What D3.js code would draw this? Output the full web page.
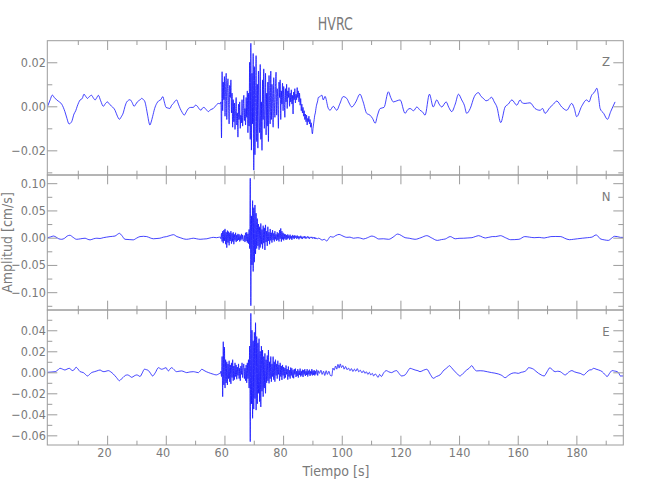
<!DOCTYPE html>
<html><head><meta charset="utf-8">
<script src="https://cdn.jsdelivr.net/npm/d3@7"></script>
<style>body{margin:0;background:#fff}</style>
</head><body><svg id="c" width="650" height="500"></svg>
<script>
const chartTitle = "HVRC";
const xTitle = "Tiempo [s]";
const yTitle = "Amplitud [cm/s]";
const componentNames = ["Z", "N", "E"];
const xDomain = [-0.4, 196];
const xMajorTicks = [20, 40, 60, 80, 100, 120, 140, 160, 180];
const xMinorTicks = [10, 30, 50, 70, 90, 110, 130, 150, 170, 190];
const burstStart = 58.6, burstStep = 0.2;

// ---- Z component ----
const zDomain = [-0.0312, 0.0298];
const zMajorTicks = [-0.02, 0, 0.02];
const zMinorTicks = [-0.03, -0.01, 0.01];
const zPre = [[-0.3,0],[0.6,0.003],[1.3,0.0051],[2.0,0.004],[2.8,0.0029],[3.5,0.0022],[4.5,0.001],[5.6,-0.0024],[6.3,-0.0055],[7.0,-0.008],[7.9,-0.007],[8.7,-0.0035],[9.3,-0.002],[9.8,0],[10.8,0.0029],[11.5,0.0035],[12.1,0.0055],[12.7,0.0045],[13.3,0.0036],[14.0,0.0045],[14.7,0.005],[15.3,0.0038],[15.9,0.0029],[16.5,0.004],[17,0.005],[17.8,0.0025],[18.7,0],[19.4,0.0012],[20.1,0.002],[20.9,0.0008],[21.6,0],[22.7,-0.0018],[23.5,-0.0045],[24.2,-0.0059],[24.8,-0.0048],[25.5,-0.003],[26.1,0],[26.7,0.002],[27.8,0.003],[28.5,0.0018],[29.2,0],[29.8,0.001],[30.3,0.002],[31.1,0.0028],[31.8,0.0036],[32.4,0.003],[32.9,0.002],[33.4,-0.001],[33.8,-0.004],[34.6,-0.0085],[35.0,-0.0072],[35.5,-0.0047],[36.2,-0.001],[36.9,0.0013],[37.6,0.0025],[38.3,0.003],[39.0,0.0044],[39.5,0.002],[40.1,-0.0005],[40.8,-0.0008],[41.4,-0.001],[42.0,0.0005],[42.6,0.0013],[43.2,0.0024],[43.7,0.0029],[44.3,0.001],[44.9,-0.001],[45.6,-0.0028],[46.3,-0.004],[47,-0.0025],[47.7,-0.001],[48.5,-0.0005],[49.4,-0.0005],[50.1,0.0005],[50.8,0],[51.4,-0.0012],[52,-0.0018],[52.5,-0.0008],[53,-0.0005],[53.8,-0.0015],[54.5,-0.0024],[55.3,-0.0015],[56.2,-0.001],[57.0,0.0002],[57.9,0.0013],[58.4,0.0012]];
const zBurst = [0.0012,0.0020,-0.0144,
0.0157,-0.0020,0.0110,0.0030,0.0135,
-0.0045,0.0090,0.0150,-0.0060,0.0070,
0.0125,0.0010,-0.0080,0.0095,0.0040,
0.0120,-0.0030,0.0060,-0.0095,0.0030,
-0.0070,0.0015,-0.0105,-0.0020,0.0040,
-0.0085,-0.0030,-0.0140,0.0010,-0.0060,
0.0020,-0.0100,-0.0040,-0.0075,0.0030,
-0.0090,-0.0020,0.0050,-0.0065,-0.0010,
-0.0085,0.0040,-0.0050,0.0070,-0.0120,
0.0060,-0.0090,0.0200,-0.0150,
0.0286,
-0.0199,0.0150,-0.0080,0.0240,-0.0290,
0.0180,-0.0220,0.0050,0.0230,-0.0160,
0.0100,-0.0190,0.0160,-0.0040,-0.0120,
0.0190,-0.0150,0.0020,-0.0200,0.0120,
-0.0060,0.0170,-0.0100,-0.0010,0.0150,
-0.0130,0.0060,-0.0090,0.0110,-0.0160,
0.0140,0.0000,-0.0080,0.0160,-0.0060,
0.0100,0.0020,-0.0095,0.0130,0.0030,
-0.0050,0.0090,0.0155,-0.0040,0.0080,
0.0010,-0.0100,0.0110,0.0040,0.0120,
-0.0060,0.0070,0.0010,0.0105,-0.0020,
0.0090,0.0030,-0.0050,0.0080,0.0020,
0.0100,-0.0010,0.0070,0.0040,0.0085,
0.0000,0.0060,0.0020,0.0075,0.0010,
0.0050,-0.0035,0.0065,0.0030,0.0080,
0.0015,0.0055,0.0030,0.0085,0.0040,
0.0070,0.0020,0.0060,0.0005,0.0035,
-0.0020,0.0010,-0.0030,-0.0005,-0.0045,
-0.0020,-0.0060,-0.0035,-0.0070,-0.0040,
-0.0085,-0.0055,-0.0070,-0.0045,-0.0080,
-0.0060,-0.0095,-0.0075,-0.0110,-0.0125,
-0.0100,-0.0080,-0.0060,-0.0040,-0.0030,
-0.0010,0.0005,0.0015,0.0025,0.0040];
const zPost = [[92.6,0.0044],[93.2,0.0051],[93.7,0.0029],[94.3,0.0045],[95.4,-0.0009],[96,-0.0018],[97.1,0],[98.3,-0.0018],[99.3,0.001],[100.5,0.0044],[101.7,0.0036],[102.5,0.0015],[103.4,-0.0003],[104.8,0.002],[106.2,0.0055],[107.3,0.002],[108.5,-0.0032],[109.6,-0.004],[110.5,-0.0055],[111.4,-0.0077],[112.2,-0.004],[113.1,-0.001],[114.4,-0.0005],[115.9,0.0066],[116.7,0.004],[117.6,0.002],[118.8,0.0025],[119.9,0.0029],[121.6,-0.0032],[122.5,-0.0015],[123.3,-0.001],[124.5,-0.002],[125.6,-0.0003],[126.7,-0.0018],[127.5,-0.0025],[128.4,-0.004],[129.9,0.0055],[131.2,-0.0003],[132.4,0.0029],[133.2,0.001],[134.1,-0.0003],[135.6,0.002],[136.5,-0.0005],[137.5,-0.0024],[138.7,0.001],[139.8,0.0055],[140.9,0.0029],[141.8,0.0005],[142.6,-0.0032],[143.8,-0.001],[145.2,0.0044],[146.6,0.0062],[147.5,0.0045],[148.3,0.0036],[149.2,0.0025],[150,0.0029],[151.1,0.0041],[152,0.002],[152.9,-0.0003],[154.2,-0.0074],[155.7,-0.0003],[156.8,0.001],[158,0.0029],[159.7,0.0005],[160.8,0.0029],[161.6,0.0015],[162.5,0.0013],[164.2,0.0016],[165.9,-0.001],[167.6,-0.0018],[168.5,-0.001],[169.3,-0.0032],[171,-0.0005],[172.2,0.001],[173.3,0.0024],[175,-0.0003],[176.7,-0.0018],[178.4,0.0013],[179.3,-0.001],[180.1,-0.0047],[181.8,0],[183.5,0.0029],[184.3,0.002],[185.2,0.005],[186.2,0.0065],[187,0.0082],[187.5,0.005],[188.1,-0.001],[189.3,-0.0032],[190.6,-0.0059],[191.7,-0.0024],[193.2,0.002]];

// ---- N component ----
const nDomain = [-0.1327, 0.115];
const nMajorTicks = [-0.10, -0.05, 0, 0.05, 0.10];
const nMinorTicks = [-0.125, -0.075, -0.025, 0.025, 0.075];
const nPre = [[-0.3,0],[0.8,0.0015],[1.7,0.003],[2.6,0.001],[3.5,-0.002],[4.5,-0.003],[5.5,-0.001],[6.4,0.003],[7.3,0.0044],[8.3,0.001],[9.6,-0.003],[11,-0.002],[12.5,-0.001],[13.4,-0.003],[14.2,-0.004],[15.4,-0.002],[16.5,-0.001],[17.6,-0.0015],[18.7,0],[19.8,0.001],[21,0.002],[22.7,0.003],[23.5,0.006],[24.2,0.008],[25,0.004],[26.1,-0.003],[27.5,-0.0035],[28.9,-0.004],[30,-0.001],[31.2,0.002],[32.4,0.0025],[33.5,0.002],[34.7,-0.0005],[35.8,-0.002],[37,-0.0015],[38,-0.001],[39.2,0.001],[40.3,0.002],[41.5,0.004],[42.6,0.0055],[43.8,0.002],[44.9,0],[46,-0.002],[47.1,-0.003],[48.3,-0.002],[49.4,-0.001],[50.5,-0.002],[51.7,-0.003],[52.8,-0.0025],[54,-0.002],[55.1,-0.0005],[56.2,0.0006],[57.3,0],[58.4,0.001]];
const nBurst = [0.0010,-0.0020,0.0080,-0.0070,0.0120,-0.0100,0.0140,-0.0060,0.0161,-0.0120,
0.0100,-0.0183,0.0130,-0.0090,0.0110,-0.0140,0.0090,-0.0060,0.0120,-0.0110,
0.0080,-0.0070,0.0100,-0.0120,0.0060,-0.0050,0.0090,-0.0080,0.0050,-0.0060,
0.0070,-0.0040,0.0060,-0.0070,0.0040,-0.0050,0.0070,-0.0030,0.0050,-0.0060,
-0.0050,0.0040,-0.0080,0.0090,-0.0060,0.0100,-0.0090,
0.0070,-0.0110,0.0150,-0.0200,0.1090,-0.1248,0.0400,-0.0500,0.0680,-0.0620,
0.0550,-0.0450,0.0600,-0.0300,0.0450,-0.0200,0.0350,-0.0150,0.0250,-0.0220,
0.0200,-0.0180,0.0260,-0.0120,0.0150,-0.0200,0.0220,-0.0100,0.0180,-0.0226,
0.0235,-0.0080,0.0120,-0.0150,0.0200,-0.0060,0.0100,-0.0120,0.0160,-0.0050,
0.0090,-0.0090,0.0140,-0.0040,0.0080,-0.0070,0.0120,-0.0030,0.0060,-0.0060,
0.0100,-0.0040,0.0080,-0.0070,0.0140,-0.0020,0.0170,-0.0073,0.0120,-0.0030,
0.0090,-0.0050,0.0070,-0.0020,0.0060,-0.0040,0.0050,-0.0030,0.0060,-0.0010,
0.0040,-0.0035,0.0055,-0.0015,0.0030,-0.0040,0.0050,-0.0010,0.0035,-0.0025,
0.0045,0.0000,0.0030,-0.0020,0.0040,-0.0010,0.0025,-0.0030,0.0020,-0.0005,
0.0035,-0.0015,0.0020,-0.0025,0.0015,0.0000,0.0030,-0.0010,0.0020,-0.0020,
0.0010,0.0000,0.0025,-0.0010,0.0015,-0.0020,0.0005,0.0010,-0.0005,0.0015,
-0.0015,0.0005,-0.0010,0.0010,-0.0020,0.0000,-0.0025,-0.0010,-0.0015,-0.0020,-0.0010];
const nPost = [[92.6,-0.002],[93.3,-0.0045],[94,-0.003],[94.9,-0.006],[95.5,-0.002],[96.1,0.002],[97,0.001],[98,0.004],[99.1,0.006],[100,0.004],[100.8,0.002],[101.7,0.0006],[102.8,0.001],[104,-0.001],[105.5,0],[106.5,-0.001],[107.4,-0.0024],[108.8,0],[110.3,0.003],[111.4,0.001],[112.6,-0.0024],[114.2,-0.002],[116,-0.003],[117.5,0.001],[119.1,0.0067],[120.3,0.004],[121.6,0],[123,-0.001],[125,-0.003],[127,0],[129,0.0037],[130.5,0],[132.6,-0.005],[134,-0.0035],[135.3,-0.0024],[137,0.002],[138.7,-0.002],[140,-0.0012],[141.6,-0.001],[143,-0.0005],[144.4,0],[145.5,0.002],[146.7,0.0037],[148,0.001],[149,-0.0006],[151.3,0.002],[152.5,0.002],[154.1,0.0037],[155.8,0],[157.6,-0.0037],[160.4,-0.003],[162.4,0.002],[164,0.001],[165.6,0],[167.3,0.0005],[169,-0.0006],[171.3,0.002],[173,0.0022],[174.7,0.002],[176,-0.001],[177.6,-0.0037],[179,-0.003],[180.4,-0.002],[182,-0.001],[183.8,0],[185.3,0.001],[186.7,0.005],[187.5,0.002],[188.1,-0.002],[189.5,-0.004],[190.9,-0.005],[192,-0.001],[193,0.0025],[194,0.002],[195,0.0006],[196,0.0005]];

// ---- E component ----
const eDomain = [-0.0692, 0.0593];
const eMajorTicks = [-0.06, -0.04, -0.02, 0, 0.02, 0.04];
const eMinorTicks = [-0.05, -0.03, -0.01, 0.01, 0.03, 0.05];
const ePre = [[-0.3,0],[1.2,0.0003],[2.3,0.0006],[3.1,0.002],[3.96,0.0038],[4.8,0.003],[5.6,0.0022],[6.3,0.003],[7.1,0.0038],[7.7,0.0025],[8.3,0.0016],[8.9,0.003],[9.4,0.0048],[10.1,0.003],[10.8,0.0006],[11.9,-0.0003],[12.6,-0.002],[13.3,-0.0035],[14,-0.002],[14.7,-0.0003],[15.6,0.0005],[16.5,0.0013],[17.6,0.0022],[18.2,0.0012],[18.9,0.0006],[19.6,0.001],[20.4,0.0016],[21.2,0.0005],[22.1,-0.0016],[23.2,-0.005],[24.2,-0.008],[24.8,-0.0065],[25.5,-0.0048],[26.2,-0.003],[27,-0.0025],[27.7,-0.0035],[28.4,-0.0048],[29.2,-0.0035],[30.1,-0.0025],[30.6,-0.003],[31.2,-0.004],[32,-0.0005],[32.7,0.0029],[33.4,0.0025],[34.1,0.0016],[34.8,-0.001],[35.5,-0.0035],[36.4,-0.0005],[37.5,0.0044],[38.1,0.0035],[38.6,0.0029],[39.3,0.0035],[40.1,0.0044],[40.5,0.0025],[40.9,0.0013],[41.4,0.003],[42,0.0044],[42.8,0.0025],[43.7,0.0006],[44.5,0.001],[45.4,0.0013],[46.3,0.0005],[47.1,-0.0003],[48.2,0.0003],[49.4,0.0006],[50.2,0.0002],[51.1,-0.0003],[51.7,0.0012],[52.3,0.0029],[53,0.0018],[53.8,0.0006],[54.5,-0.0002],[55.3,-0.001],[56.2,-0.0018],[57.2,-0.0025],[57.9,-0.0018],[58.4,-0.001]];
const eBurst = [-0.0010,0.0010,-0.0040,0.0150,-0.0232,0.0291,-0.0120,0.0240,-0.0150,0.0120,
-0.0100,0.0100,-0.0120,0.0080,-0.0060,0.0110,-0.0090,0.0070,-0.0110,0.0090,
-0.0050,0.0120,-0.0080,0.0060,-0.0070,0.0090,-0.0040,0.0070,-0.0066,0.0050,
-0.0030,0.0080,-0.0060,0.0040,-0.0080,0.0060,-0.0020,0.0090,-0.0050,0.0030,
0.0080,-0.0060,0.0040,-0.0080,0.0070,-0.0100,0.0090,
-0.0060,0.0120,-0.0150,0.0250,-0.0660,0.0561,-0.0300,0.0400,-0.0438,0.0300,
-0.0350,0.0380,-0.0250,0.0472,-0.0360,0.0340,-0.0300,0.0280,-0.0200,0.0320,
-0.0280,0.0200,-0.0330,0.0250,-0.0180,0.0212,-0.0232,0.0150,-0.0150,0.0180,
-0.0200,0.0120,-0.0100,0.0160,-0.0080,0.0212,-0.0105,0.0100,-0.0060,0.0150,
-0.0090,0.0080,-0.0040,0.0149,-0.0070,0.0100,-0.0089,0.0120,-0.0030,0.0080,
-0.0060,0.0110,-0.0020,0.0070,-0.0080,0.0090,-0.0040,0.0060,-0.0073,0.0070,
-0.0030,0.0050,-0.0060,0.0040,-0.0050,0.0065,-0.0020,0.0030,-0.0070,0.0055,
-0.0040,0.0020,-0.0060,0.0045,-0.0030,0.0038,-0.0050,0.0020,-0.0057,0.0030,
-0.0020,0.0035,-0.0045,0.0010,-0.0035,0.0030,-0.0050,0.0015,-0.0025,0.0035,
-0.0040,0.0010,-0.0030,0.0025,-0.0045,0.0020,-0.0020,0.0030,-0.0035,0.0010,
-0.0025,0.0030,-0.0040,0.0015,-0.0020,0.0025,-0.0035,0.0010,-0.0020,0.0030,
-0.0030,0.0015,-0.0025,0.0020,-0.0030,0.0010,-0.0020,0.0025,0.0010,-0.0030,0.0015];
const ePost = [[92.4,-0.001],[92.9,0.002],[93.3,-0.002],[93.8,0.001],[94.2,-0.003],[94.7,0.0015],[95.1,-0.002],[95.6,0.001],[96.1,-0.003],[96.6,-0.0035],[97,0.004],[97.4,0.002],[97.9,0.006],[98.3,0.003],[98.7,0.0075],[99.1,0.004],[99.5,0.008],[99.9,0.0045],[100.4,0.0065],[100.8,0.003],[101.3,0.0055],[101.8,0.0025],[102.3,0.004],[102.8,0.0015],[103.3,0.0035],[103.8,0.0008],[104.3,0.003],[104.8,0.001],[105.3,0.0035],[105.8,0.0005],[106.3,0.002],[106.9,-0.0005],[107.4,0.0015],[107.9,-0.001],[108.4,0.0005],[108.9,-0.002],[109.4,0],[109.9,-0.0025],[110.4,-0.001],[110.9,-0.0035],[111.4,-0.0015],[111.9,-0.003],[112.4,-0.0048],[112.9,-0.002],[113.5,-0.004],[114.3,-0.0005],[115.2,0.0016],[116,0.0005],[117,-0.0003],[117.9,0.001],[118.7,0.0016],[119.5,-0.001],[120.4,-0.0035],[121.6,-0.0025],[122.5,0.001],[123.3,0.0038],[124.2,0.003],[125,0.0022],[126,0.0015],[126.7,0.0006],[127.9,0.002],[129,0.0029],[130.2,-0.002],[131.2,-0.0057],[132.3,-0.004],[133.5,-0.0025],[134.9,0.0022],[135.8,0.004],[136.7,0.0063],[137.4,0.0045],[138.1,0.0022],[139.2,-0.001],[140.3,-0.0035],[141.4,-0.001],[142.6,0.0022],[143.5,0.004],[144.3,0.0063],[145.2,0.003],[146,0.0013],[147.2,0.0015],[148.3,0.0013],[149.7,0.0005],[151.1,-0.0003],[152.2,-0.0008],[153.4,-0.0016],[154.6,-0.003],[155.7,-0.0051],[156.8,-0.003],[158,-0.001],[159.1,-0.0005],[160.2,-0.001],[161.2,0],[162.2,0.0006],[163,0.002],[163.7,0.0044],[164.5,0.004],[165.4,0.0029],[166.2,0.001],[167.1,-0.001],[168,-0.0025],[169,-0.0035],[170,0.0005],[171,0.0044],[171.9,0.002],[172.8,0.0006],[173.6,0.001],[174.5,0.0006],[175.3,-0.001],[176.2,-0.0025],[177.3,0],[178.5,0.0016],[179.3,0.0005],[180.2,-0.0003],[181.3,-0.001],[182.5,-0.0025],[183.5,0],[184.5,0.0022],[185.2,0.0025],[185.9,0.0038],[186.7,0.003],[187.6,0.0022],[188.8,0.0006],[189.7,-0.002],[190.5,-0.004],[191.3,-0.001],[192.2,0.0016],[193,0.0012],[193.9,0.0006],[194.5,-0.001],[195,-0.0035],[196,-0.0035]];

// ---------- drawing ----------
const FONT = "'Liberation Sans Narrow','DejaVu Sans Condensed','Liberation Sans',sans-serif";
const TXT = "#7a7a7a", AX = "#9c9c9c";
const left = 47.3, right = 623.3;
const panelTops = [40.7, 175, 310], panelBottoms = [175, 310, 445];

function assemble(pre, burst, post) {
  return pre.concat(burst.map((v, i) => [burstStart + i * burstStep, v]), post);
}
const panels = [
  {name: componentNames[0], data: assemble(zPre, zBurst, zPost), dom: zDomain, major: zMajorTicks, minor: zMinorTicks},
  {name: componentNames[1], data: assemble(nPre, nBurst, nPost), dom: nDomain, major: nMajorTicks, minor: nMinorTicks},
  {name: componentNames[2], data: assemble(ePre, eBurst, ePost), dom: eDomain, major: eMajorTicks, minor: eMinorTicks}
];

const svg = d3.select("#c");
const x = d3.scaleLinear().domain(xDomain).range([left, right]);

function style(g, keepText) {
  g.select(".domain").remove();
  g.selectAll(".tick line").attr("stroke", AX).attr("stroke-width", 1);
  g.selectAll(".tick text").attr("fill", TXT).attr("font-family", FONT).attr("font-size", 12.5);
  if (!keepText) g.selectAll(".tick text").remove();
}

panels.forEach((p, k) => {
  const top = panelTops[k], bottom = panelBottoms[k];
  const y = d3.scaleLinear().domain(p.dom).range([bottom, top]);
  const g = svg.append("g");
  g.append("clipPath").attr("id", "clip" + k).append("rect")
    .attr("x", left).attr("y", top).attr("width", right - left).attr("height", bottom - top);
  const line = d3.line().curve(d3.curveMonotoneX).x(d => x(d[0])).y(d => y(d[1]));
  g.append("path").datum(p.data).attr("clip-path", `url(#clip${k})`)
    .attr("d", line).attr("fill", "none").attr("stroke", "#0a0aff")
    .attr("stroke-opacity", 0.85)
    .attr("stroke-width", 0.9).attr("stroke-linejoin", "round");

  // frame
  g.append("rect").attr("x", left).attr("y", top).attr("width", right - left).attr("height", bottom - top)
    .attr("fill", "none").attr("stroke", AX).attr("stroke-width", 1);

  // y axes
  g.append("g").attr("transform", `translate(${left},0)`)
    .call(d3.axisLeft(y).tickValues(p.major).tickSize(-10).tickPadding(1.5).tickFormat(d3.format(".2f")))
    .call(s => style(s, true));
  g.append("g").attr("transform", `translate(${left},0)`)
    .call(d3.axisLeft(y).tickValues(p.minor).tickSize(-5).tickFormat(""))
    .call(s => style(s, false));
  g.append("g").attr("transform", `translate(${right},0)`)
    .call(d3.axisRight(y).tickValues(p.major).tickSize(-10).tickFormat(""))
    .call(s => style(s, false));
  g.append("g").attr("transform", `translate(${right},0)`)
    .call(d3.axisRight(y).tickValues(p.minor).tickSize(-5).tickFormat(""))
    .call(s => style(s, false));

  // x axes (top and bottom of each panel)
  g.append("g").attr("transform", `translate(0,${top})`)
    .call(d3.axisTop(x).tickValues(xMajorTicks).tickSize(-9.3).tickFormat(""))
    .call(s => style(s, false));
  g.append("g").attr("transform", `translate(0,${top})`)
    .call(d3.axisTop(x).tickValues(xMinorTicks).tickSize(-4.3).tickFormat(""))
    .call(s => style(s, false));
  const isLast = k === panels.length - 1;
  g.append("g").attr("transform", `translate(0,${bottom})`)
    .call(d3.axisBottom(x).tickValues(xMajorTicks).tickSize(-9.3).tickPadding(3)
      .tickFormat(isLast ? d3.format("d") : ""))
    .call(s => style(s, isLast))
    .call(s => s.selectAll(".tick text").attr("dx", d => String(d).length < 3 ? -3.2 : 0));
  g.append("g").attr("transform", `translate(0,${bottom})`)
    .call(d3.axisBottom(x).tickValues(xMinorTicks).tickSize(-4.3).tickFormat(""))
    .call(s => style(s, false));

  // component label
  g.append("text").attr("x", 606).attr("y", top + 21).attr("dy", "0.36em")
    .attr("text-anchor", "middle").attr("fill", TXT).attr("font-family", FONT)
    .attr("font-size", 13).text(p.name);
});

// titles
svg.append("text").attr("x", (left + right) / 2).attr("y", 30).attr("text-anchor", "middle")
  .attr("fill", TXT).attr("font-family", FONT).attr("font-size", 17)
  .attr("textLength", 35).attr("lengthAdjust", "spacingAndGlyphs").text(chartTitle);
svg.append("text").attr("x", 336).attr("y", 476).attr("text-anchor", "middle")
  .attr("fill", TXT).attr("font-family", FONT).attr("font-size", 14).text(xTitle);
svg.append("text").attr("transform", "translate(12,242.5) rotate(-90)").attr("text-anchor", "middle")
  .attr("fill", TXT).attr("font-family", FONT).attr("font-size", 14).text(yTitle);
</script>
</body></html>
